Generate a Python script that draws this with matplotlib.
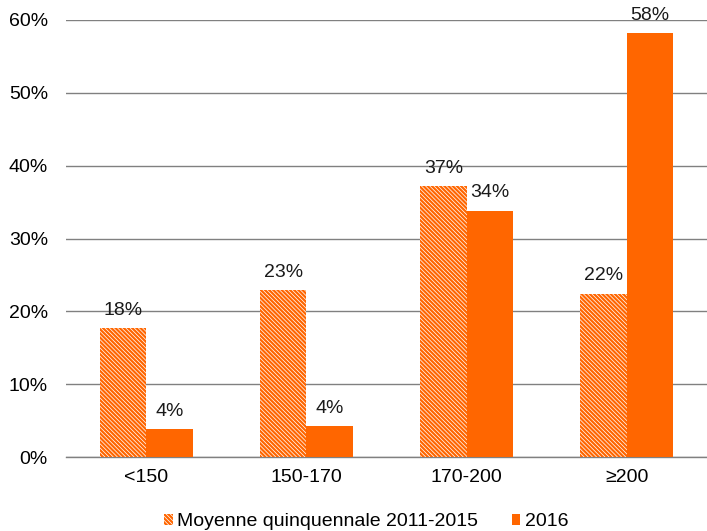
import matplotlib
matplotlib.use("Agg")
import matplotlib.pyplot as plt
import numpy as np

plt.rcParams['font.family'] = ['Liberation Sans', 'DejaVu Sans']
plt.rcParams['hatch.linewidth'] = 1.6

categories = ["<150", "150-170", "170-200", "≥200"]
avg_2011_2015 = [17.7, 22.9, 37.2, 22.4]
val_2016 = [3.8, 4.2, 33.8, 58.2]
avg_labels = ["18%", "23%", "37%", "22%"]
labels_2016 = ["4%", "4%", "34%", "58%"]

orange = "#FF6600"
fs = 14

fig = plt.figure(figsize=(7.07, 5.31), dpi=100)
ax = fig.add_axes([66 / 707, 1 - 457 / 531, 1 - 66 / 707, (457 - 20) / 531])

x = np.arange(len(categories))
w = 0.29
plt.rcParams['hatch.color'] = orange
b1 = ax.bar(x - w / 2, avg_2011_2015, w, facecolor="white", edgecolor=orange,
            hatch="\\" * 8, linewidth=0, label="Moyenne quinquennale 2011-2015", zorder=3)
b2 = ax.bar(x + w / 2, val_2016, w, color=orange, label="2016", zorder=3)

for xi, v, t in zip(x - w / 2, avg_2011_2015, avg_labels):
    ax.text(xi, v + 1.3, t, ha="center", va="bottom", fontsize=fs, color="#1a1a1a")
for xi, v, t in zip(x + w / 2, val_2016, labels_2016):
    ax.text(xi, v + 1.3, t, ha="center", va="bottom", fontsize=fs, color="#1a1a1a")

ax.set_xlim(-0.5, 3.5)
ax.set_ylim(0, 60)
ax.set_yticks(range(0, 61, 10))
ax.set_yticklabels([f"{v}%" for v in range(0, 61, 10)], fontsize=fs)
ax.set_xticks(x)
ax.set_xticklabels(categories, fontsize=fs)
ax.tick_params(axis="y", length=0, pad=13)
ax.tick_params(axis="x", length=0, pad=9)
ax.grid(axis="y", color="#808080", linewidth=1, zorder=0)
for s in ["left", "right", "top"]:
    ax.spines[s].set_visible(False)
ax.spines["bottom"].set_color("#808080")
ax.spines["bottom"].set_linewidth(1)

fig.legend(handles=[b1, b2], loc="lower center", bbox_to_anchor=(0.518, -0.032), ncol=2,
           frameon=False, fontsize=fs, handlelength=0.45, handleheight=0.45,
           handletextpad=0.25, columnspacing=1.7)

fig.savefig("out.png", dpi=100)
